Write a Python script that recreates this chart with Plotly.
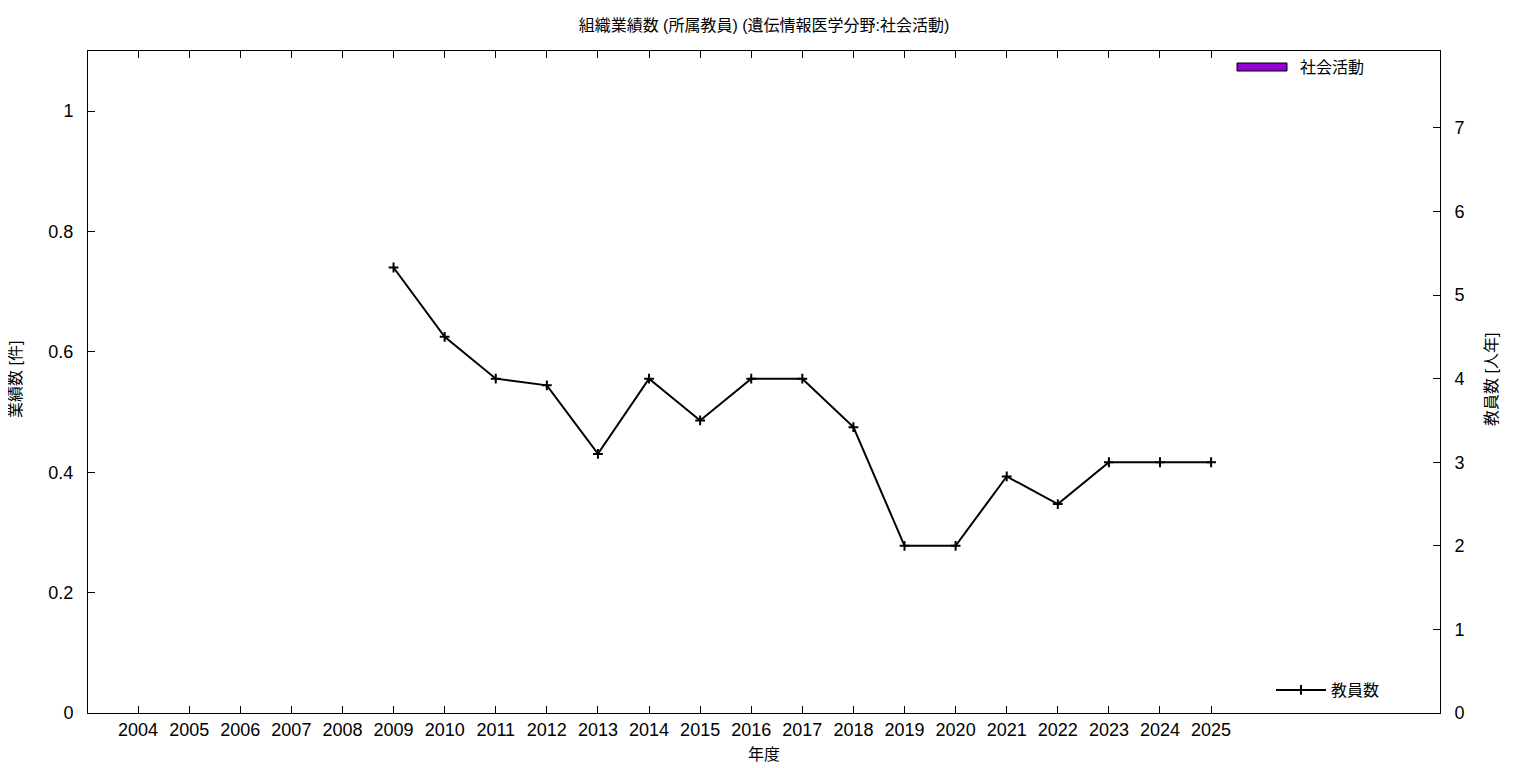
import plotly.graph_objects as go

years = list(range(2004, 2026))
activity = [0] * len(years)  # 社会活動 (業績数)
staff_years = [2009, 2010, 2011, 2012, 2013, 2014, 2015, 2016, 2017,
               2018, 2019, 2020, 2021, 2022, 2023, 2024, 2025]
staff = [5.33, 4.5, 4.0, 3.92, 3.1, 4.0, 3.5, 4.0, 4.0,
         3.42, 2.0, 2.0, 2.83, 2.5, 3.0, 3.0, 3.0]

FONT = "Liberation Sans, Noto Sans CJK JP, sans-serif"

fig = go.Figure()
fig.add_trace(go.Bar(x=years, y=activity, name="社会活動",
                     marker=dict(color="#9400D3", line=dict(width=0)),
                     showlegend=False, yaxis="y"))
fig.add_trace(go.Scatter(x=staff_years, y=staff, name="教員数", mode="lines+markers",
                         line=dict(color="black", width=2),
                         marker=dict(symbol="cross-thin", size=7,
                                     line=dict(color="black", width=2)),
                         yaxis="y2", legend="legend2"))

fig.update_layout(
    width=1536, height=768,
    margin=dict(l=80, r=104, t=43, b=63),
    paper_bgcolor="white", plot_bgcolor="white",
    font=dict(family=FONT, size=18, color="black"),
    title=dict(text="組織業績数 (所属教員) (遺伝情報医学分野:社会活動)",
               x=(764 - 88) / 1352 * 1352 / 1536 + 80 / 1536, xanchor="center",
               y=1 - 17 / 768, yanchor="middle",
               font=dict(size=16)),
    xaxis=dict(range=[2003.02, 2029.48], tickvals=years, ticktext=[str(y) for y in years],
               ticks="inside", ticklen=7, tickcolor="black", showline=True,
               linecolor="black", linewidth=1, mirror="ticks", showgrid=False,
               zeroline=False, tickfont=dict(size=18)),
    yaxis=dict(range=[0, 1.1], tickvals=[0, 0.2, 0.4, 0.6, 0.8, 1],
               ticktext=["0", "0.2", "0.4", "0.6", "0.8", "1"],
               ticks="inside", ticklen=7, tickcolor="black", showline=True,
               linecolor="black", linewidth=1, showgrid=False, zeroline=False,
               ticklabelstandoff=10, tickfont=dict(size=18)),
    yaxis2=dict(range=[0, 7.92], tickvals=list(range(0, 8)), overlaying="y", side="right",
                ticks="inside", ticklen=7, tickcolor="black", showline=True,
                linecolor="black", linewidth=1, showgrid=False, zeroline=False,
                ticklabelstandoff=10, tickfont=dict(size=18)),
    legend2=dict(x=(1385 - 88) / 1352, y=(713 - 707) / 662, xanchor="right", yanchor="bottom",
                 bgcolor="rgba(0,0,0,0)", font=dict(size=16), itemwidth=50),
    bargap=0.5,
)

shapes = [dict(type="rect", xref="paper", yref="paper",
               x0=(1237 - 88) / 1352, x1=(1287 - 88) / 1352,
               y0=(713 - 71) / 662, y1=(713 - 63) / 662,
               fillcolor="#9400D3", line=dict(color="black", width=1))]
annotations = [
    dict(text="社会活動", xref="paper", yref="paper", x=(1298 - 88) / 1352,
         y=(713 - 67) / 662, xanchor="left", yanchor="middle", showarrow=False,
         font=dict(size=16)),
    dict(text="年度", xref="paper", yref="paper", x=(764 - 88) / 1352, y=-(754 - 713) / 662,
         xanchor="center", yanchor="middle", showarrow=False, font=dict(size=16)),
    dict(text="業績数 [件]", xref="paper", yref="paper", x=-(88 - 15) / 1352,
         y=(713 - 380) / 662, xanchor="center", yanchor="middle", showarrow=False,
         textangle=-90, font=dict(size=16)),
    dict(text="教員数 [人年]", xref="paper", yref="paper", x=1 + (1491 - 1440) / 1352,
         y=(713 - 380) / 662, xanchor="center", yanchor="middle", showarrow=False,
         textangle=-90, font=dict(size=16)),
]
fig.update_layout(shapes=shapes, annotations=annotations)

fig.write_html("out.html")
